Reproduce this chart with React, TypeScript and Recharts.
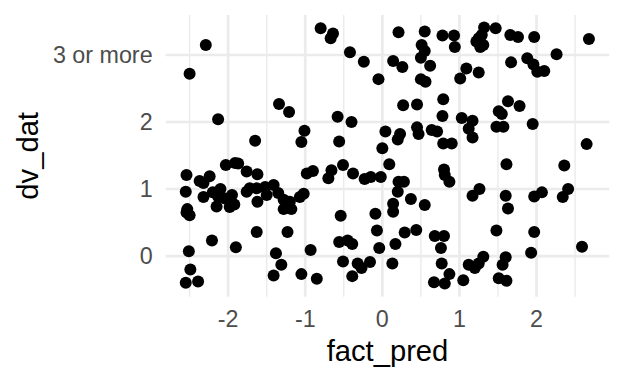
import { ScatterChart, Scatter, XAxis, YAxis, ReferenceLine, Label } from "recharts";

// jittered points
const factPred = [
  -2.29, -2.5, -2.13, -1.34, -1.21, -1.65, -1.01, -1.05,
  -0.8, -0.64, -0.67, -0.42, -0.24, -0.05, 0.21, 0.55, 0.78, 0.93, 0.94, 0.51, 0.55, 0.5, 0.14, 0.26, 0.62, 0.5, 0.56, 1.01,
  0.79, 0.45, 0.27, 0.78, 1.03, -0.58, -0.4, 0.04, 0.23, 0.2, 0.45, 0.47, 0.64, 0.71, -0.56, 0.0, 0.79, 0.9,
  1.32, 1.47, 1.25, 1.29, 1.22, 1.31, 1.27, 1.66, 1.76, 1.97, 2.68, 2.26, 1.88, 1.96, 2.01, 2.1, 1.67, 1.09, 1.25,
  1.63, 1.78, 1.51, 1.55, 1.17, 1.12, 1.17, 1.48, 1.57, 1.95, 2.65,
  -2.54, -2.37, -2.32, -2.24, -2.03, -1.91, -1.87, -1.76, -1.62, -2.55, -2.32, -2.2, -2.1, -2.13, -2.04, -1.95, -2.15,
  -1.98, -1.92, -2.53, -2.54, -2.5, -1.76, -1.72, -1.63, -1.62, -1.52, -1.5, -1.41, -1.35, -1.28, -1.28, -1.18, -1.2,
  -1.07, -1.02, -0.98, -1.63, -1.23, -2.21, -1.9, -2.51, -1.38, -0.93, -1.31, -2.49, -2.55, -2.39, -1.41, -1.05,
  -0.9, -0.7, -0.66, -0.51, -0.38, -0.23, -0.15, -0.02, 0.09, 0.21, 0.28, 0.2, 0.8, 0.81, 0.87, 0.14, 0.14, 0.37, 0.55,
  -0.54, -0.09, -0.07, 0.29, 0.44, -0.56, -0.45, -0.39, -0.04, 0.17, 0.68, 0.8, 0.76, -0.51, -0.32, -0.27, -0.16, 0.13,
  0.77, 0.87, -0.39, -0.85, 0.67, 0.81, 1.05,
  1.61, 2.36, 1.26, 1.17, 1.6, 1.63, 1.97, 2.07, 2.41, 2.34, 1.48, 1.97, 1.93, 2.59, 1.12, 1.2, 1.25, 1.31, 1.6, 1.56,
  1.51, 1.61,
];
const dvDat = [
  3.15, 2.72, 2.04, 2.27, 2.15, 1.72, 1.87, 1.7,
  3.4, 3.32, 3.25, 3.04, 2.9, 2.64, 3.34, 3.35, 3.29, 3.29, 3.12, 3.15, 3.06, 2.96, 2.91, 2.82, 2.84, 2.64, 2.6, 2.65,
  2.34, 2.26, 2.25, 2.09, 2.06, 2.08, 2.0, 1.86, 1.82, 1.74, 1.92, 1.82, 1.88, 1.86, 1.71, 1.61, 1.68, 1.68,
  3.41, 3.4, 3.25, 3.3, 3.2, 3.15, 3.12, 3.3, 3.27, 3.27, 3.24, 3.01, 2.95, 2.86, 2.75, 2.76, 2.89, 2.8, 2.74,
  2.31, 2.24, 2.16, 2.12, 2.02, 1.9, 1.77, 1.93, 1.93, 1.97, 1.67,
  1.21, 1.12, 1.09, 1.19, 1.36, 1.39, 1.38, 1.26, 1.22, 0.96, 0.88, 0.95, 1.0, 0.89, 0.86, 0.91, 0.74,
  0.73, 0.77, 0.7, 0.65, 0.61, 0.96, 1.01, 1.01, 0.81, 1.03, 0.91, 1.06, 0.94, 0.84, 0.7, 0.7, 0.81,
  0.88, 0.93, 1.23, 0.36, 0.36, 0.23, 0.13, 0.07, 0.04, 0.09, -0.13, -0.2, -0.4, -0.38, -0.29, -0.27,
  1.27, 1.16, 1.28, 1.36, 1.23, 1.15, 1.18, 1.18, 1.37, 1.11, 1.11, 0.96, 1.29, 1.21, 1.11, 0.78, 0.66, 0.85, 0.76,
  0.6, 0.63, 0.38, 0.35, 0.39, 0.21, 0.23, 0.18, 0.12, 0.18, 0.3, 0.3, 0.12, -0.08, -0.11, -0.18, -0.09, -0.11,
  -0.11, -0.27, -0.3, -0.34, -0.39, -0.41, -0.36,
  1.37, 1.35, 1.0, 0.9, 0.9, 0.71, 0.89, 0.95, 1.0, 0.88, 0.38, 0.36, 0.05, 0.14, -0.13, -0.18, -0.11, -0.01, -0.02, -0.13,
  -0.33, -0.37,
];

const xTicks = [-2, -1, 0, 1, 2];
const xMinor = [-2.5, -1.5, -0.5, 0.5, 1.5, 2.5];
const yTicks = [0, 1, 2, 3];
const yLabels = ["0", "1", "2", "3 or more"];

const points = factPred.map((x, i) => ({ x, y: dvDat[i] }));

const font = "'Liberation Sans', Arial, Helvetica, sans-serif";
const grid = "#EBEBEB";

const Dot = (props: any) => <circle cx={props.cx} cy={props.cy} r={6} fill="#000" />;

const YTitle = (props: any) => {
  const vb = props.viewBox;
  const cx = 38;
  const cy = vb.y + vb.height / 2;
  return (
    <text
      x={cx}
      y={cy}
      transform={`rotate(-90 ${cx} ${cy})`}
      textAnchor="middle"
      fontSize={29.2}
      fontFamily={font}
      fill="#000"
    >
      dv_dat
    </text>
  );
};

const XTitle = (props: any) => {
  const vb = props.viewBox;
  return (
    <text x={vb.x + vb.width / 2} y={361} textAnchor="middle" fontSize={29.2} fontFamily={font} fill="#000">
      fact_pred
    </text>
  );
};

export default function App() {
  return (
    <div style={{ position: "absolute", left: 0, top: 0, width: 624, height: 384, background: "#fff" }}>
      <ScatterChart width={624} height={384} margin={{ top: 15, right: 14.7, bottom: 0, left: 0 }}>
        <XAxis
          type="number"
          dataKey="x"
          domain={[-2.81, 2.944]}
          ticks={xTicks}
          interval={0}
          allowDataOverflow
          axisLine={false}
          tickLine={false}
          tickSize={0}
          tickMargin={13.3}
          height={87.3}
          tick={{ fill: "#4D4D4D", fontSize: 23.3, fontFamily: font }}
        >
          <Label content={XTitle} />
        </XAxis>
        <YAxis
          type="number"
          dataKey="y"
          domain={[-0.607, 3.597]}
          ticks={yTicks}
          interval={0}
          allowDataOverflow
          axisLine={false}
          tickLine={false}
          tickSize={0}
          tickMargin={13.1}
          width={165.7}
          tickFormatter={(v: number) => yLabels[v]}
          tick={{ fill: "#4D4D4D", fontSize: 23.3, fontFamily: font }}
        >
          <Label content={YTitle} />
        </YAxis>
        {xMinor.map((v) => (
          <ReferenceLine key={"mx" + v} x={v} stroke={grid} strokeWidth={1.4} />
        ))}
        {xTicks.map((v) => (
          <ReferenceLine key={"x" + v} x={v} stroke={grid} strokeWidth={2.7} />
        ))}
        {yTicks.map((v) => (
          <ReferenceLine key={"y" + v} y={v} stroke={grid} strokeWidth={2.7} />
        ))}
        <Scatter data={points} shape={Dot} isAnimationActive={false} />
      </ScatterChart>
    </div>
  );
}
